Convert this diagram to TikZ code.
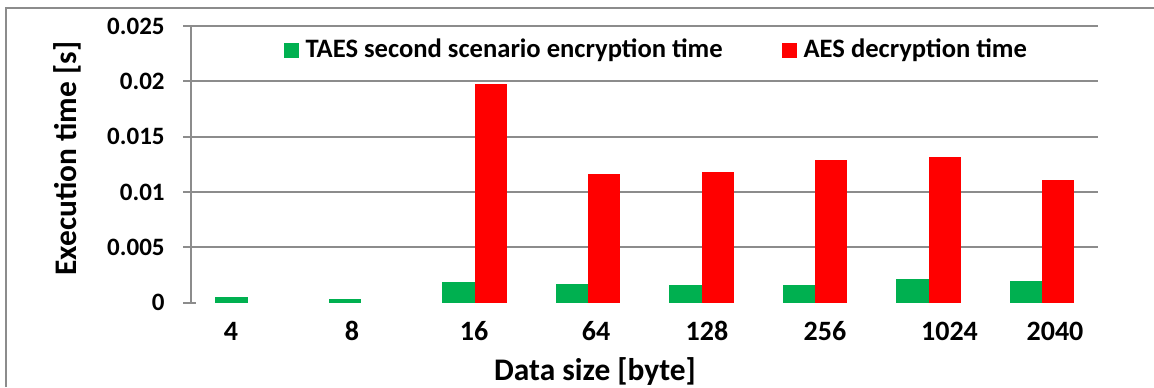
\documentclass[tikz,border=0pt]{standalone}
\usepackage{fontspec}
\setmainfont{Carlito}
\usetikzlibrary{positioning}
\definecolor{taesgreen}{HTML}{00B050}
\definecolor{aesred}{HTML}{FF0000}
\definecolor{gridgray}{HTML}{8C8C8C}

\begin{document}
\begin{tikzpicture}[
  x=0.5pt, y=-0.5pt,
  gridline/.style={draw=gridgray, line width=1pt},
  ticklabel/.style={font=\bfseries\fontsize{12.5}{14}\selectfont, anchor=east, inner sep=0pt},
  catlabel/.style={font=\bfseries\fontsize{14}{16}\selectfont, inner sep=0pt},
  axistitle/.style={font=\bfseries\fontsize{15.7}{18}\selectfont, inner sep=0pt},
  legendbox/.style={fill=#1, minimum size=7.3pt, inner sep=0pt},
  legendtext/.style={font=\bfseries\fontsize{13.3}{15}\selectfont, inner sep=0pt, right=3pt of #1},
]
\useasboundingbox (0,0) rectangle (1154,387);
\draw[gridline] (5.5,387) -- (5.5,7.5) -- (1154,7.5);
\foreach \v [count=\k from 0] in {0.025,0.02,0.015,0.01,0.005}
{
  \draw[gridline] (183,{26+55.33*\k}) -- (1098,{26+55.33*\k});
  \node[ticklabel] (t\k) at (165,{26+55.33*\k}) {\v};
}
\draw[gridline] (183,302.7) -- (196,302.7);
\node[ticklabel] (t5) at (165,302.7) {0};
\draw[gridline] (190.7,26) -- (190.7,302.7);
\foreach \cx/\ga/\re in {247.7/0.00049/0, 361/0.00036/0, 474.5/0.00184/0.01976,
  588/0.00169/0.0116, 701.5/0.0016/0.01183, 815/0.0016/0.0129,
  928.5/0.00211/0.01314, 1042/0.00193/0.01109}
{
  \fill[taesgreen] ({\cx-32.4},302.7) rectangle (\cx,{302.7-11066*\ga});
  \ifdim\re pt>0pt
    \fill[aesred] (\cx,302.7) rectangle ({\cx+32.4},{302.7-11066*\re});
  \fi
}
\foreach \lx/\lab [count=\i] in {231/4, 352/8, 474/16, 596/64, 707/128,
  825/256, 949.5/1024, 1055/2040}
  \node[catlabel] (c\i) at (\lx,331) {\lab};
\node[axistitle] (xtitle) at (595,371) {Data size [byte]};
\node[axistitle, rotate=90] (ytitle) at (67,158.5) {Execution time [s]};
\node[legendbox=taesgreen] (lg1) at (291.5,50.3) {};
\node[legendtext=lg1] (lt1) {TAES second scenario encryption time};
\node[legendbox=aesred] (lg2) at (789.5,50.3) {};
\node[legendtext=lg2] (lt2) {AES decryption time};
\end{tikzpicture}
\end{document}
